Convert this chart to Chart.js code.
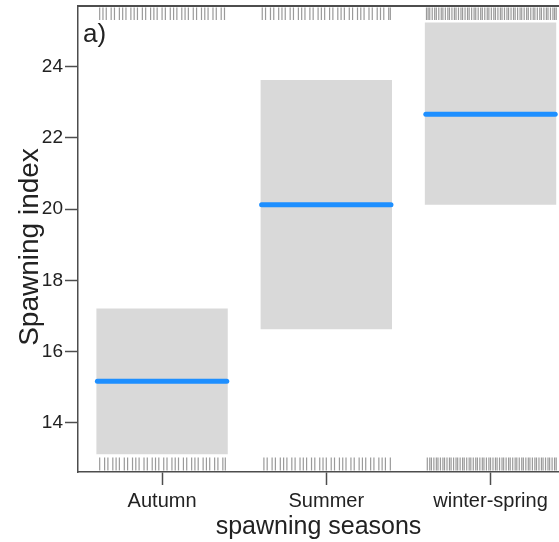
<!DOCTYPE html>
<html>
<head>
  <title>Spawning index by season</title>
  <style>
    html, body {
      margin: 0;
      padding: 0;
      background: #fff;
      overflow: hidden;
    }
    .chart-container {
      position: relative;
      width: 559px;
      height: 542px;
    }
  </style>
  <script src="https://cdn.jsdelivr.net/npm/chart.js"></script>
</head>
<body>
  <div class="chart-container">
    <canvas id="seasonChart"></canvas>
  </div>
  <script>
    // Fitted spawning index per season, with its confidence band
    const seasons = ['Autumn', 'Summer', 'winter-spring'];
    const fitValues = [15.17, 20.12, 22.66];
    const lowerBand = [13.12, 16.63, 20.12];
    const upperBand = [17.21, 23.62, 25.24];
    const yTicks = [14, 16, 18, 20, 22, 24];

    // Rug marks: offsets of the partial residuals from each season's centre
    const rugTopAutumn = [-0.38, -0.36, -0.34, -0.31, -0.29, -0.26, -0.24, -0.22, -0.19, -0.17, -0.15, -0.12, -0.10, -0.07, -0.05, -0.03, 0.00, 0.02, 0.05, 0.07, 0.09, 0.12, 0.14, 0.16, 0.19, 0.21, 0.24, 0.26, 0.28, 0.31, 0.33, 0.36, 0.38];
    const rugBottomAutumn = [-0.38, -0.35, -0.33, -0.30, -0.28, -0.26, -0.23, -0.21, -0.18, -0.16, -0.14, -0.11, -0.09, -0.06, -0.04, -0.02, 0.01, 0.03, 0.06, 0.08, 0.10, 0.13, 0.15, 0.18, 0.20, 0.22, 0.25, 0.27, 0.29, 0.32, 0.34, 0.37, 0.385];
    const rugTopSummer = [-0.39, -0.37, -0.34, -0.32, -0.29, -0.27, -0.25, -0.22, -0.20, -0.17, -0.15, -0.13, -0.10, -0.08, -0.05, -0.03, -0.01, 0.02, 0.04, 0.07, 0.09, 0.11, 0.14, 0.16, 0.19, 0.21, 0.23, 0.26, 0.28, 0.31, 0.33, 0.35, 0.38, 0.39];
    const rugBottomSummer = [-0.38, -0.36, -0.33, -0.31, -0.28, -0.26, -0.24, -0.21, -0.19, -0.16, -0.14, -0.12, -0.09, -0.07, -0.04, -0.02, 0.00, 0.03, 0.05, 0.08, 0.10, 0.12, 0.15, 0.17, 0.20, 0.22, 0.24, 0.27, 0.29, 0.32, 0.34, 0.36, 0.39];
    const rugTopWinter = [-0.39, -0.38, -0.37, -0.355, -0.34, -0.33, -0.315, -0.30, -0.29, -0.275, -0.26, -0.25, -0.235, -0.22, -0.21, -0.195, -0.18, -0.17, -0.155, -0.14, -0.13, -0.115, -0.10, -0.09, -0.075, -0.06, -0.05, -0.035, -0.02, -0.01, 0.005, 0.02, 0.03, 0.045, 0.06, 0.07, 0.085, 0.10, 0.11, 0.125, 0.14, 0.15, 0.165, 0.18, 0.19, 0.205, 0.22, 0.23, 0.245, 0.26, 0.27, 0.285, 0.30, 0.31, 0.325, 0.34, 0.35, 0.365, 0.38, 0.39, 0.40];
    const rugBottomWinter = [-0.385, -0.37, -0.36, -0.345, -0.33, -0.32, -0.305, -0.29, -0.28, -0.265, -0.25, -0.24, -0.225, -0.21, -0.20, -0.185, -0.17, -0.16, -0.145, -0.13, -0.12, -0.105, -0.09, -0.08, -0.065, -0.05, -0.04, -0.025, -0.01, 0.00, 0.015, 0.03, 0.04, 0.055, 0.07, 0.08, 0.095, 0.11, 0.12, 0.135, 0.15, 0.16, 0.175, 0.19, 0.20, 0.215, 0.23, 0.24, 0.255, 0.27, 0.28, 0.295, 0.31, 0.32, 0.335, 0.35, 0.36, 0.375, 0.39, 0.40];

    const rugTop = [rugTopAutumn, rugTopSummer, rugTopWinter];
    const rugBottom = [rugBottomAutumn, rugBottomSummer, rugBottomWinter];

    const FONT = "'Liberation Sans', Arial, sans-serif";
    const AXIS_COLOR = '#4d4d4d';
    const TEXT_COLOR = '#222';

    // Draws the frame top, the fitted lines, the rugs, the y title and the panel letter
    const overlayPlugin = {
      id: 'overlay',
      afterDatasetsDraw(chart) {
        const ctx = chart.ctx;
        const area = chart.chartArea;
        const xScale = chart.scales.x;
        const yScale = chart.scales.y;
        ctx.save();

        // top edge of the box
        ctx.strokeStyle = AXIS_COLOR;
        ctx.lineWidth = 2;
        ctx.beginPath();
        ctx.moveTo(area.left, area.top);
        ctx.lineTo(area.right, area.top);
        ctx.stroke();

        // rugs
        ctx.strokeStyle = 'rgba(120,120,120,0.75)';
        ctx.lineWidth = 1.2;
        seasons.forEach((s, i) => {
          rugTop[i].forEach(off => {
            const px = xScale.getPixelForValue(i + off);
            ctx.beginPath();
            ctx.moveTo(px, area.top + 1.5);
            ctx.lineTo(px, area.top + 14);
            ctx.stroke();
          });
          rugBottom[i].forEach(off => {
            const px = xScale.getPixelForValue(i + off);
            ctx.beginPath();
            ctx.moveTo(px, area.bottom - 14.5);
            ctx.lineTo(px, area.bottom - 1.5);
            ctx.stroke();
          });
        });

        // fitted values across each band
        const meta = chart.getDatasetMeta(0);
        ctx.strokeStyle = '#1e8fff';
        ctx.lineWidth = 5;
        ctx.lineCap = 'round';
        meta.data.forEach((bar, i) => {
          const props = bar.getProps(['x', 'width'], true);
          const py = yScale.getPixelForValue(fitValues[i]);
          ctx.beginPath();
          ctx.moveTo(props.x - props.width / 2 + 1, py);
          ctx.lineTo(props.x + props.width / 2 - 1, py);
          ctx.stroke();
        });

        // panel letter
        ctx.fillStyle = TEXT_COLOR;
        ctx.font = '26px ' + FONT;
        ctx.textBaseline = 'alphabetic';
        ctx.textAlign = 'left';
        ctx.fillText('a)', area.left + 5, area.top + 36);

        // y axis title, sitting a little below the centre as in the original
        ctx.save();
        ctx.translate(30, (area.top + area.bottom) / 2 + 8);
        ctx.rotate(-Math.PI / 2);
        ctx.font = '28px ' + FONT;
        ctx.textAlign = 'center';
        ctx.textBaseline = 'middle';
        ctx.fillText('Spawning index', 0, 0);
        ctx.restore();

        ctx.restore();
      }
    };

    const ctx = document.getElementById('seasonChart').getContext('2d');
    new Chart(ctx, {
      type: 'bar',
      data: {
        datasets: [{
          data: seasons.map((s, i) => ({ x: i, y: [lowerBand[i], upperBand[i]] })),
          backgroundColor: '#d9d9d9',
          borderWidth: 0,
          barPercentage: 0.8,
          categoryPercentage: 1
        }]
      },
      options: {
        responsive: true,
        maintainAspectRatio: false,
        animation: false,
        layout: { padding: { top: 6, right: 0, bottom: 0, left: 0 } },
        plugins: {
          legend: { display: false },
          tooltip: { enabled: false }
        },
        scales: {
          x: {
            type: 'linear',
            min: -0.512,
            max: 2.417,
            offset: false,
            afterBuildTicks: scale => {
              scale.ticks = seasons.map((s, i) => ({ value: i }));
            },
            afterFit: scale => {
              scale.height = 70;
              scale.paddingLeft = 0;
              scale.paddingRight = 0;
            },
            ticks: {
              callback: v => seasons[v],
              autoSkip: false,
              maxRotation: 0,
              padding: 4,
              color: TEXT_COLOR,
              font: { family: FONT, size: 20 }
            },
            grid: {
              display: true,
              offset: false,
              drawOnChartArea: false,
              drawTicks: true,
              tickLength: 13,
              tickColor: AXIS_COLOR,
              tickWidth: 1.5
            },
            border: { display: true, color: AXIS_COLOR, width: 1.5 },
            title: {
              display: true,
              text: 'spawning seasons',
              color: TEXT_COLOR,
              font: { family: FONT, size: 25 },
              padding: { top: 0, bottom: 0 }
            }
          },
          y: {
            type: 'linear',
            min: 12.62,
            max: 25.70,
            afterBuildTicks: scale => {
              scale.ticks = yTicks.map(v => ({ value: v }));
            },
            afterFit: scale => {
              scale.width = 78;
              scale.paddingTop = 0;
              scale.paddingBottom = 0;
            },
            ticks: {
              padding: 2,
              color: TEXT_COLOR,
              font: { family: FONT, size: 19 }
            },
            grid: {
              display: true,
              drawOnChartArea: false,
              drawTicks: true,
              tickLength: 13,
              tickColor: AXIS_COLOR,
              tickWidth: 1.5
            },
            border: { display: true, color: AXIS_COLOR, width: 1.5 }
          }
        }
      },
      plugins: [overlayPlugin]
    });
  </script>
</body>
</html>
